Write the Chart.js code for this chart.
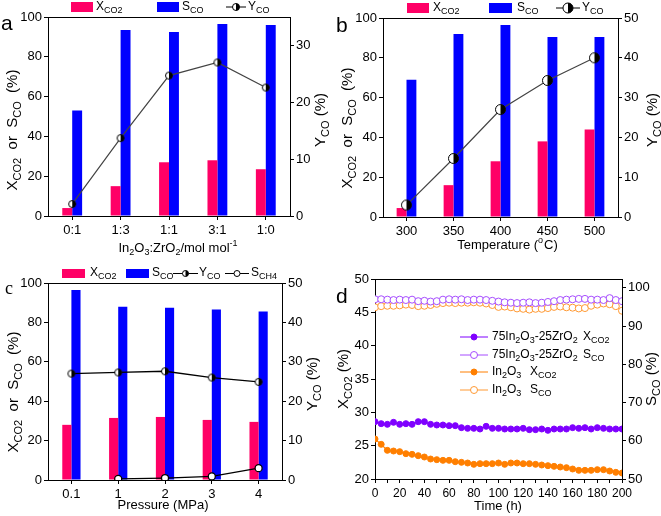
<!DOCTYPE html>
<html>
<head>
<meta charset="utf-8">
<script src="https://cdn.jsdelivr.net/npm/chart.js@4.4.0/dist/chart.umd.min.js"></script>
<style>
body { margin: 0; background: #fff; width: 661px; height: 516px; position: relative; overflow: hidden; }
canvas { position: absolute; }
</style>
</head>
<body>
<canvas id="ca" width="330" height="258" style="left:0;top:0"></canvas>
<canvas id="cb" width="331" height="258" style="left:330px;top:0"></canvas>
<canvas id="cc" width="330" height="258" style="left:0;top:258px"></canvas>
<canvas id="cd" width="331" height="258" style="left:330px;top:258px"></canvas>
<script>
// panel a: In2O3:ZrO2 ratio
const ratioLabels = ['0:1', '1:3', '1:1', '3:1', '1:0']
const ratioXco2 = [4, 15, 27, 28, 23.5]
const ratioSco = [53, 93.5, 92.5, 96.5, 96]
const ratioYco = [2.1, 13.7, 24.7, 27, 22.6]

// panel b: temperature
const tempLabels = ['300', '350', '400', '450', '500']
const tempXco2 = [4.5, 16, 28, 38, 44]
const tempSco = [69, 92, 96.5, 90.5, 90.5]
const tempYco = [3, 14.7, 27, 34.3, 40]

// panel c: pressure
const presLabels = ['0.1', '1', '2', '3', '4']
const presXco2 = [28, 31.5, 32, 30.5, 29.5]
const presSco = [96.5, 88, 87.5, 86.5, 85.5]
const presYco = [27, 27.3, 27.6, 26, 24.9]
const presSch4 = [null, 0.3, 0.5, 0.9, 3]

// panel d: stability test
const hours = [0, 5, 10, 15, 20, 25, 30, 35, 40, 45, 50, 55, 60, 65, 70, 75, 80, 85, 90, 95, 100,
    105, 110, 115, 120, 125, 130, 135, 140, 145, 150, 155, 160, 165, 170, 175, 180, 185, 190, 195, 200]
const mixXco2 = [28.6, 28.3, 28.2, 28.5, 28.2, 28.3, 28.2, 28.6, 28.6, 28.2, 28.1, 28.1, 28.0, 28.0, 27.7, 27.6, 27.6, 27.5, 27.9, 27.6, 27.6,
    27.5, 27.5, 27.5, 27.6, 27.4, 27.4, 27.5, 27.3, 27.5, 27.5, 27.5, 27.7, 27.6, 27.7, 27.5, 27.7, 27.6, 27.5, 27.5, 27.5]
const mixSco = [97.0, 97.0, 96.9, 96.8, 96.9, 96.8, 96.9, 96.5, 96.6, 96.4, 96.5, 96.9, 97.0, 96.9, 97.0, 96.8, 96.9, 96.9, 96.8, 96.6, 96.4,
    96.2, 96.1, 96.0, 96.1, 96.2, 96.0, 96.1, 96.3, 96.5, 96.8, 96.9, 97.0, 97.1, 97.1, 96.9, 96.9, 96.8, 97.3, 96.8, 96.5]
const inXco2 = [26.0, 25.2, 24.3, 24.2, 24.1, 23.8, 23.7, 23.5, 23.3, 23.0, 22.9, 22.8, 22.8, 22.6, 22.5, 22.4, 22.2, 22.3, 22.3, 22.3, 22.4,
    22.2, 22.4, 22.4, 22.3, 22.3, 22.2, 22.1, 22.0, 21.9, 21.8, 21.7, 21.5, 21.3, 21.3, 21.3, 21.4, 21.4, 21.2, 21.0, 20.9]
const inSco = [94.9, 95.2, 95.3, 95.3, 95.4, 95.6, 95.5, 95.2, 95.3, 95.5, 95.8, 96.0, 96.1, 96.0, 96.1, 96.1, 96.2, 96.1, 95.9, 95.5, 95.0,
    95.1, 94.9, 94.6, 94.5, 94.3, 94.5, 94.5, 94.7, 95.0, 95.1, 94.9, 94.8, 94.6, 94.7, 95.3, 95.6, 95.9, 95.7, 95.2, 94.0]

const FONT = '"Liberation Sans", Arial, sans-serif'
const PINK = '#ff0066'
const BLUE = '#0000ff'
const PURPLE = '#7f00ff'
const PURPLE_L = '#a64dff'
const ORANGE = '#ff7f00'
const ORANGE_L = '#ff9933'

Chart.defaults.font.family = FONT
Chart.defaults.font.size = 13
Chart.defaults.color = '#000'
Chart.defaults.animation = false

// text with _{sub} and ^{sup} parts, y is the middle of the capitals
function richText(ctx, str, x, y, size, align, angle) {
    const parts = []
    const re = /([_^])\{([^}]*)\}/g
    let last = 0, m
    while ((m = re.exec(str))) {
        if (m.index > last) parts.push({t: str.slice(last, m.index), k: ''})
        parts.push({t: m[2], k: m[1]})
        last = re.lastIndex
    }
    if (last < str.length) parts.push({t: str.slice(last), k: ''})
    const small = Math.round(size * 0.72)
    let w = 0
    for (const p of parts) {
        ctx.font = (p.k ? small : size) + 'px ' + FONT
        p.w = ctx.measureText(p.t).width
        w += p.w
    }
    ctx.save()
    ctx.translate(x, y)
    if (angle) ctx.rotate(angle)
    ctx.fillStyle = '#000'
    ctx.textBaseline = 'alphabetic'
    let cx = align === 'center' ? -w / 2 : 0
    for (const p of parts) {
        ctx.font = (p.k ? small : size) + 'px ' + FONT
        let dy = size * 0.36
        if (p.k === '_') dy += size * 0.25
        if (p.k === '^') dy -= size * 0.42
        ctx.fillText(p.t, cx, dy)
        cx += p.w + (p.k === '^' ? 1 : 0)
    }
    ctx.restore()
}

function drawMarker(g, type, x, y, r, color) {
    g.save()
    g.lineWidth = 1
    if (type === 'half') {
        g.beginPath(); g.arc(x, y, r, 0, Math.PI * 2); g.fillStyle = '#fff'; g.fill()
        g.beginPath(); g.arc(x, y, r, -Math.PI / 2, Math.PI / 2); g.closePath(); g.fillStyle = '#000'; g.fill()
        g.beginPath(); g.arc(x, y, r, 0, Math.PI * 2); g.strokeStyle = '#000'; g.stroke()
    } else if (type === 'open') {
        g.beginPath(); g.arc(x, y, r, 0, Math.PI * 2); g.fillStyle = '#fff'; g.fill(); g.strokeStyle = color; g.stroke()
    } else {
        g.beginPath(); g.arc(x, y, r, 0, Math.PI * 2); g.fillStyle = color; g.fill(); g.strokeStyle = color; g.stroke()
    }
    g.restore()
}

function halfDot(r) {
    const c = document.createElement('canvas')
    const s = Math.ceil(r * 2 + 3)
    c.width = s
    c.height = s
    drawMarker(c.getContext('2d'), 'half', s / 2, s / 2, r)
    return c
}

// frame top line, legend, axis titles and panel letter
function decor(spec) {
    return {
        id: 'decor',
        afterDraw(chart) {
            const ctx = chart.ctx
            const a = chart.chartArea
            ctx.save()
            ctx.strokeStyle = '#000'
            ctx.lineWidth = 1
            ctx.beginPath()
            ctx.moveTo(Math.round(a.left), Math.round(a.top) + 0.5)
            ctx.lineTo(Math.round(a.right) + 1, Math.round(a.top) + 0.5)
            ctx.stroke()
            for (const b of spec.boxes || []) {
                ctx.fillStyle = b.c
                ctx.fillRect(b.x, b.y, b.w, b.h)
            }
            for (const l of spec.lines || []) {
                ctx.strokeStyle = l.c
                ctx.lineWidth = l.lw || 1
                ctx.beginPath()
                ctx.moveTo(l.x1, l.y)
                ctx.lineTo(l.x2, l.y)
                ctx.stroke()
                drawMarker(ctx, l.m, (l.x1 + l.x2) / 2, l.y, l.r, l.mc || l.c)
            }
            for (const t of spec.texts || []) {
                richText(ctx, t.s, t.x, t.y, t.size || 12, t.align || 'left', t.angle || 0)
            }
            const L = spec.letter
            ctx.fillStyle = '#000'
            ctx.font = L.font
            ctx.textBaseline = 'alphabetic'
            ctx.fillText(L.s, L.x, L.y)
            ctx.restore()
        }
    }
}

function yAxis(pos, min, max, step, width) {
    return {
        position: pos, min: min, max: max,
        grid: {drawOnChartArea: false, drawTicks: true, tickLength: 4, color: '#000'},
        border: {display: true, color: '#000'},
        ticks: {stepSize: step, includeBounds: false, padding: 2, color: '#000'},
        afterFit(s) { s.width = width }
    }
}

function xCat(height) {
    return {
        type: 'category', offset: true,
        grid: {drawOnChartArea: false, drawTicks: true, tickLength: 4, offset: false, color: '#000'},
        border: {display: true, color: '#000'},
        ticks: {padding: 3, color: '#000', maxRotation: 0},
        afterFit(s) { s.height = height }
    }
}

function barSet(data, color, cat) {
    return {type: 'bar', data: data, backgroundColor: color, yAxisID: 'y', order: 1,
        barPercentage: 1, categoryPercentage: cat}
}

function lineSet(data, style, r, color, width) {
    return {type: 'line', data: data, yAxisID: 'y1', order: 0, borderColor: color, borderWidth: width,
        pointStyle: style, pointRadius: r, pointBackgroundColor: '#fff', pointBorderColor: '#000', spanGaps: false}
}

const baseOpts = (top, scales) => ({
    responsive: false,
    animation: false,
    layout: {padding: {top: top, left: 0, right: 0, bottom: 0}},
    plugins: {legend: {display: false}, tooltip: {enabled: false}},
    scales: scales
})

const leftTitle = 'X_{CO2}  or  S_{CO}  (%)'
const yTitle = 'Y_{CO} (%)'
const up = -Math.PI / 2
const SIDE = 15
const BOTTOM = 13

// a
new Chart(document.getElementById('ca'), {
    type: 'bar',
    data: {
        labels: ratioLabels,
        datasets: [
            lineSet(ratioYco, halfDot(3.5), 3.5, '#444', 1.2),
            barSet(ratioXco2, PINK, 0.41),
            barSet(ratioSco, BLUE, 0.41)
        ]
    },
    options: baseOpts(17, {x: xCat(42), y: yAxis('left', 0, 100, 20, 48), y1: yAxis('right', 0, 35, 10, 40)}),
    plugins: [decor({
        boxes: [{x: 71, y: 2, w: 22, h: 10, c: PINK}, {x: 157, y: 2, w: 22, h: 10, c: BLUE}],
        lines: [{x1: 226, x2: 246, y: 7, c: '#000', m: 'half', r: 3.5}],
        texts: [
            {s: 'X_{CO2}', x: 96, y: 6}, {s: 'S_{CO}', x: 182, y: 6}, {s: 'Y_{CO}', x: 248, y: 6},
            {s: leftTitle, x: 12, y: 130, align: 'center', angle: up, size: SIDE},
            {s: yTitle, x: 320, y: 120, align: 'center', angle: up, size: SIDE},
            {s: 'In_{2}O_{3}:ZrO_{2}/mol mol^{-1}', x: 178, y: 247, align: 'center', size: BOTTOM}
        ],
        letter: {s: 'a', x: 1, y: 30, font: '21px ' + FONT}
    })]
})

// b
new Chart(document.getElementById('cb'), {
    type: 'bar',
    data: {
        labels: tempLabels,
        datasets: [
            lineSet(tempYco, halfDot(5), 5, '#444', 1.2),
            barSet(tempXco2, PINK, 0.42),
            barSet(tempSco, BLUE, 0.42)
        ]
    },
    options: baseOpts(18, {x: xCat(41), y: yAxis('left', 0, 100, 20, 53), y1: yAxis('right', 0, 50, 10, 43)}),
    plugins: [decor({
        boxes: [{x: 77, y: 3, w: 22, h: 10, c: PINK}, {x: 159, y: 3, w: 23, h: 10, c: BLUE}],
        lines: [{x1: 226, x2: 250, y: 8, c: '#000', m: 'half', r: 5}],
        texts: [
            {s: 'X_{CO2}', x: 103, y: 7}, {s: 'S_{CO}', x: 187, y: 7}, {s: 'Y_{CO}', x: 252, y: 7},
            {s: leftTitle, x: 17, y: 128, align: 'center', angle: up, size: SIDE},
            {s: yTitle, x: 322, y: 120, align: 'center', angle: up, size: SIDE},
            {s: 'Temperature (^{o}C)', x: 177, y: 244, align: 'center', size: BOTTOM}
        ],
        letter: {s: 'b', x: 6, y: 32, font: '21px ' + FONT}
    })]
})

// c
const cSets = [
    lineSet(presYco, halfDot(3.5), 3.5, '#000', 1.3),
    lineSet(presSch4, 'circle', 3.5, '#000', 1.3),
    barSet(presXco2, PINK, 0.39),
    barSet(presSco, BLUE, 0.39)
]
new Chart(document.getElementById('cc'), {
    type: 'bar',
    data: {labels: presLabels, datasets: cSets},
    options: baseOpts(25, {x: xCat(36), y: yAxis('left', 0, 100, 20, 48), y1: yAxis('right', 0, 50, 10, 48)}),
    plugins: [decor({
        boxes: [{x: 62, y: 11, w: 23, h: 9, c: PINK}, {x: 126, y: 11, w: 23, h: 9, c: BLUE}],
        lines: [{x1: 173, x2: 198, y: 15.5, c: '#000', m: 'half', r: 3},
            {x1: 225, x2: 249, y: 15.5, c: '#000', m: 'open', r: 3}],
        texts: [
            {s: 'X_{CO2}', x: 90, y: 14}, {s: 'S_{CO}', x: 152, y: 14}, {s: 'Y_{CO}', x: 199, y: 14},
            {s: 'S_{CH4}', x: 251, y: 14},
            {s: leftTitle, x: 13, y: 134, align: 'center', angle: up, size: SIDE},
            {s: yTitle, x: 312, y: 126, align: 'center', angle: up, size: SIDE},
            {s: 'Pressure (MPa)', x: 163, y: 246, align: 'center', size: BOTTOM}
        ],
        letter: {s: 'c', x: 5, y: 36, font: '18px "Liberation Serif", serif'}
    })]
})

// d
const toXY = (ys) => ys.map((v, i) => ({x: hours[i], y: v}))
function timeSet(ys, axis, color, open) {
    return {data: toXY(ys), yAxisID: axis, borderColor: color, borderWidth: 1.2,
        pointRadius: open ? 3.5 : 3, pointBackgroundColor: open ? '#fff' : color,
        pointBorderColor: color, pointBorderWidth: 1}
}
new Chart(document.getElementById('cd'), {
    type: 'line',
    data: {
        datasets: [
            timeSet(mixSco, 'y1', PURPLE_L, true),
            timeSet(inSco, 'y1', ORANGE_L, true),
            timeSet(mixXco2, 'y', PURPLE, false),
            timeSet(inXco2, 'y', ORANGE, false)
        ]
    },
    options: baseOpts(21, {
        x: {
            type: 'linear', min: 0, max: 200,
            grid: {drawOnChartArea: false, drawTicks: true, tickLength: 4, color: '#000'},
            border: {display: true, color: '#000'},
            ticks: {stepSize: 10, autoSkip: false, padding: 3, color: '#000', maxRotation: 0, font: {size: 12},
                callback: (v) => v % 20 === 0 ? v : ''},
            afterFit(s) { s.height = 37 }
        },
        y: yAxis('left', 20, 50, 5, 45),
        y1: yAxis('right', 50, 102.3, 10, 39)
    }),
    plugins: [decor({
        lines: [
            {x1: 130, x2: 158, y: 79, c: PURPLE, m: 'ball', r: 3},
            {x1: 130, x2: 158, y: 97, c: PURPLE_L, m: 'open', r: 3.5},
            {x1: 130, x2: 158, y: 114, c: ORANGE, m: 'ball', r: 3},
            {x1: 130, x2: 158, y: 132, c: ORANGE_L, m: 'open', r: 3.5}
        ],
        texts: [
            {s: '75In_{2}O_{3}-25ZrO_{2}', x: 162, y: 78}, {s: 'X_{CO2}', x: 253, y: 78},
            {s: '75In_{2}O_{3}-25ZrO_{2}', x: 162, y: 96}, {s: 'S_{CO}', x: 253, y: 96},
            {s: 'In_{2}O_{3}', x: 162, y: 113}, {s: 'X_{CO2}', x: 200, y: 113},
            {s: 'In_{2}O_{3}', x: 162, y: 131}, {s: 'S_{CO}', x: 200, y: 131},
            {s: 'X_{CO2} (%)', x: 13, y: 121, align: 'center', angle: up, size: SIDE},
            {s: 'S_{CO} (%)', x: 321, y: 121, align: 'center', angle: up, size: SIDE},
            {s: 'Time (h)', x: 168, y: 247, align: 'center', size: BOTTOM}
        ],
        letter: {s: 'd', x: 6, y: 45, font: '21px ' + FONT}
    })]
})
</script>
</body>
</html>
